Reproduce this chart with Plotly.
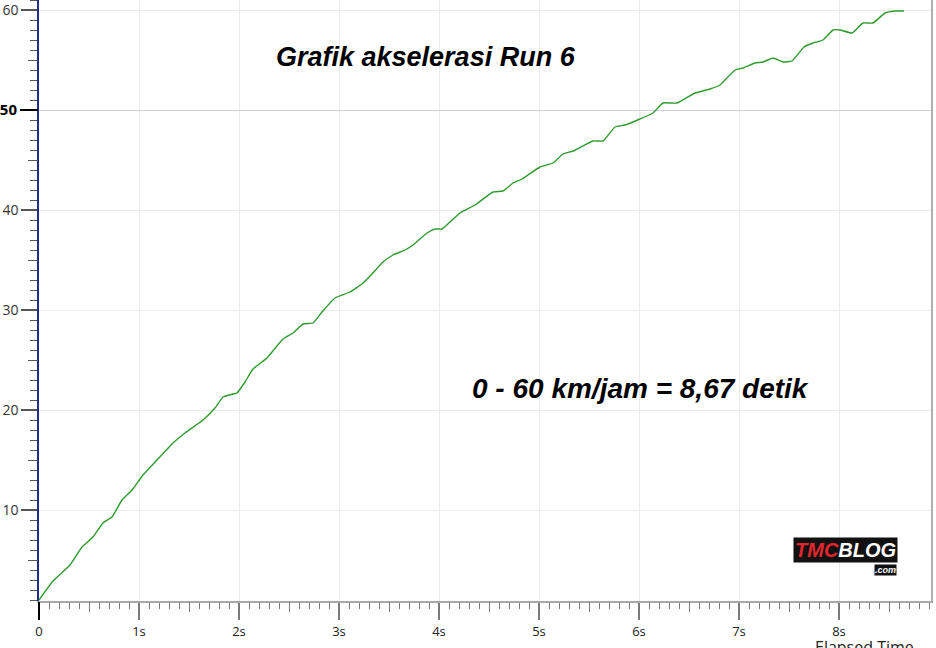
import plotly.graph_objects as go

# elapsed time (s) and speed (km/jam)
waktu = [0, 0.14, 0.31, 0.43, 0.54, 0.64, 0.73, 0.83, 0.93, 1.04,
         1.18, 1.34, 1.46, 1.64, 1.76, 1.84, 1.94, 1.98, 2.06, 2.14,
         2.28, 2.44, 2.54, 2.64, 2.74, 2.83, 2.96, 3.11, 3.24, 3.33,
         3.44, 3.54, 3.66, 3.74, 3.88, 3.96, 4.03, 4.21, 4.36, 4.54,
         4.64, 4.74, 4.83, 5.01, 5.14, 5.24, 5.34, 5.54, 5.64, 5.76,
         5.86, 6.01, 6.14, 6.24, 6.38, 6.56, 6.71, 6.81, 6.96, 7.04,
         7.16, 7.24, 7.34, 7.44, 7.53, 7.65, 7.74, 7.84, 7.94, 8.01,
         8.13, 8.24, 8.34, 8.46, 8.56, 8.65]
kecepatan = [1.0, 2.9, 4.5, 6.3, 7.3, 8.7, 9.3, 11.0, 12.0, 13.5,
             15.0, 16.7, 17.7, 19.0, 20.2, 21.3, 21.6, 21.7, 22.8, 24.1,
             25.2, 27.1, 27.7, 28.6, 28.7, 29.8, 31.2, 31.8, 32.7, 33.6,
             34.8, 35.5, 36.0, 36.5, 37.7, 38.1, 38.1, 39.7, 40.5, 41.8,
             41.9, 42.7, 43.1, 44.3, 44.7, 45.6, 45.9, 46.9, 46.9, 48.3,
             48.5, 49.1, 49.7, 50.7, 50.7, 51.7, 52.1, 52.5, 54.0, 54.2,
             54.7, 54.8, 55.2, 54.8, 54.9, 56.3, 56.7, 57.0, 58.0, 58.0,
             57.7, 58.7, 58.7, 59.7, 59.9, 59.9]

x_ticks = [0, 1, 2, 3, 4, 5, 6, 7, 8]
x_labels = ["0", "1s", "2s", "3s", "4s", "5s", "6s", "7s", "8s"]
y_ticks = [10, 20, 30, 40, 60]
y_labels = ["10", "20", "30", "40", "60"]

x_range = [0, 8.92]
y_range = [0.9, 61.0]

font_ui = "Open Sans"

fig = go.Figure()
fig.add_trace(go.Scatter(x=waktu, y=kecepatan, mode="lines",
                         line=dict(color="#2f9a2f", width=1.4, shape="spline", smoothing=0.4),
                         showlegend=False, hoverinfo="skip"))
# empty traces so the extra tick axes get drawn
for xa, ya in [("x2", "y2"), ("x3", "y3"), ("x", "y4")]:
    fig.add_trace(go.Scatter(x=[], y=[], xaxis=xa, yaxis=ya, showlegend=False))

fig.update_layout(
    width=936, height=648, autosize=False,
    margin=dict(l=39, r=5, t=0, b=47),
    paper_bgcolor="white", plot_bgcolor="white",
    font=dict(family=font_ui, color="#222"),
    xaxis=dict(range=x_range, tickvals=x_ticks, ticktext=x_labels, automargin=False,
               ticks="outside", ticklen=17, tickcolor="#7a7a7a", tickwidth=1.5,
               tickfont=dict(size=13, color="#222"), ticklabeloverflow="allow",
               showline=True, linecolor="#a8a8a8", linewidth=2,
               showgrid=True, gridcolor="#ebebeb", gridwidth=1, zeroline=False,
               minor=dict(dtick=0.1, tick0=0, ticks="outside", ticklen=6,
                          tickcolor="#7a7a7a", tickwidth=1, showgrid=False)),
    xaxis2=dict(range=x_range, overlaying="x", anchor="y", automargin=False,
                tickvals=[0.5, 1.5, 2.5, 3.5, 4.5, 5.5, 6.5, 7.5, 8.5],
                ticks="outside", ticklen=10, tickcolor="#7a7a7a", tickwidth=1,
                showticklabels=False, showgrid=False, showline=False, zeroline=False),
    xaxis3=dict(range=x_range, overlaying="x", anchor="y", automargin=False,
                tickvals=[0], ticks="outside", ticklen=18, tickcolor="#000",
                tickwidth=2, showticklabels=False, showgrid=False,
                showline=False, zeroline=False),
    yaxis=dict(range=y_range, tickvals=y_ticks, ticktext=y_labels, automargin=False,
               ticks="outside", ticklen=16, tickcolor="#555", tickwidth=1.5,
               tickfont=dict(size=14, color="#333"), ticklabeloverflow="allow",
               showline=True, linecolor="#1f2a8a", linewidth=1.5,
               showgrid=True, gridcolor="#ebebeb", gridwidth=1, zeroline=False,
               minor=dict(dtick=1, tick0=0, ticks="outside", ticklen=7,
                          tickcolor="#555", tickwidth=1, showgrid=False)),
    yaxis2=dict(range=y_range, overlaying="y", anchor="x", automargin=False,
                tickvals=[5, 15, 25, 35, 45, 55],
                ticks="outside", ticklen=10, tickcolor="#555", tickwidth=1,
                showticklabels=False, showgrid=False, showline=False, zeroline=False),
    yaxis3=dict(range=y_range, overlaying="y", anchor="x", automargin=False,
                tickvals=[50], ticktext=["<b>50</b>"], ticklabeloverflow="allow",
                tickfont=dict(size=15, color="#000"),
                ticks="outside", ticklen=18, tickcolor="#000", tickwidth=2,
                showgrid=True, gridcolor="#cfcfcf", gridwidth=1.2,
                showline=False, zeroline=False),
    yaxis4=dict(range=y_range, overlaying="y", anchor="x", side="right", automargin=False,
                showline=True, linecolor="#b0b0b0", linewidth=1.5,
                ticks="", showticklabels=False, showgrid=False, zeroline=False),
)

judul = "Grafik akselerasi Run 6"
hasil = "0 - 60 km/jam = 8,67 detik"
fig.add_annotation(x=3.87, y=55.3, xref="x", yref="y", text="<b><i>" + judul + "</i></b>",
                   showarrow=False, font=dict(family="Liberation Sans", size=27, color="#000"))
fig.add_annotation(x=6.01, y=22.2, xref="x", yref="y", text="<b><i>" + hasil + "</i></b>",
                   showarrow=False, font=dict(family="Liberation Sans", size=28, color="#000"))
# axis title sits half below the page edge, as in the original screenshot
fig.add_annotation(x=0.926, y=-0.057, xref="paper", yref="paper",
                   xanchor="center", yanchor="top",
                   text="Elapsed Time", showarrow=False, borderpad=0,
                   font=dict(family=font_ui, size=16, color="#222"))

# watermark logo: TMCBLOG block with a small .com tab right under it
fig.add_annotation(x=8.06, y=6.0, xref="x", yref="y",
                   text="<b><i><span style='color:#e3262e'>TMC</span>BLOG</i></b>",
                   showarrow=False, bgcolor="#111", borderpad=1,
                   font=dict(family="Liberation Sans", size=20, color="white"))
fig.add_annotation(x=8.58, y=4.65, xref="x", yref="y", xanchor="right", yanchor="top",
                   text="<b><i>.com</i></b>", showarrow=False, bgcolor="#111",
                   borderpad=0, font=dict(family="Liberation Sans", size=9, color="white"))

# drop the default page margin so the chart fills the window from the corner
fig.write_html("out.html", config={"displayModeBar": False},
               post_script="document.body.style.margin='0';")
